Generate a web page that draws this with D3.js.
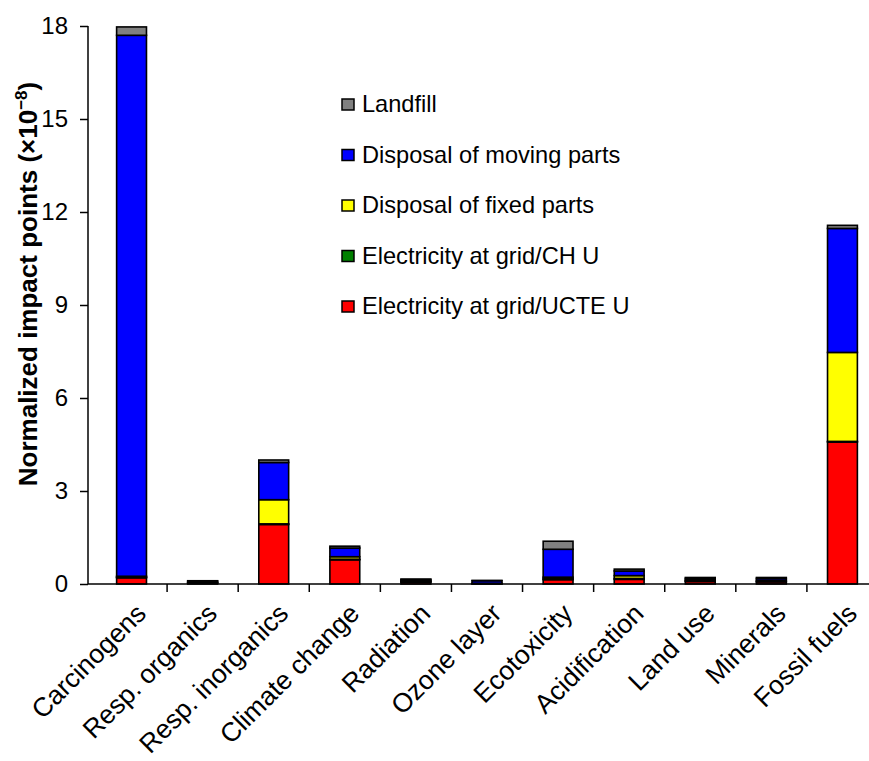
<!DOCTYPE html>
<html>
<head>
<meta charset="utf-8">
<script src="https://cdn.jsdelivr.net/npm/d3@7"></script>
<style>
  body { margin: 0; background: #fff; }
  text { font-family: "Liberation Sans", Arial, sans-serif; fill: #000; }
</style>
</head>
<body>
<div id="canvas"></div>
<script>
// categories and stacked series (x 10^-8 points)
const categories = ["Carcinogens", "Resp. organics", "Resp. inorganics", "Climate change",
  "Radiation", "Ozone layer", "Ecotoxicity", "Acidification", "Land use", "Minerals", "Fossil fuels"];
const elecUCTE = [0.20, 0.03, 1.92, 0.78, 0.06, 0.01, 0.14, 0.15, 0.08, 0.07, 4.58];
const elecCH   = [0.02, 0.005, 0.02, 0.02, 0.02, 0.005, 0.03, 0.03, 0.02, 0.01, 0.02];
const fixedParts  = [0.03, 0.02, 0.78, 0.08, 0.02, 0.01, 0.05, 0.09, 0.03, 0.04, 2.87];
const movingParts = [17.45, 0.04, 1.20, 0.28, 0.04, 0.08, 0.90, 0.15, 0.05, 0.06, 4.00];
const landfill = [0.27, 0.01, 0.08, 0.06, 0.02, 0.01, 0.26, 0.06, 0.03, 0.03, 0.10];
const yTicks = [0, 3, 6, 9, 12, 15, 18];

const series = [
  { name: "Electricity at grid/UCTE U", values: elecUCTE, color: "#ff0000" },
  { name: "Electricity at grid/CH U", values: elecCH, color: "#008000" },
  { name: "Disposal of fixed parts", values: fixedParts, color: "#ffff00" },
  { name: "Disposal of moving parts", values: movingParts, color: "#0000ff" },
  { name: "Landfill", values: landfill, color: "#808080" }
];

const width = 869, height = 761;
const svg = d3.select("#canvas").append("svg")
  .attr("width", width).attr("height", height);

const x = d3.scaleBand().domain(categories)
  .range([96, 878]).paddingInner(0.58).paddingOuter(0.29);
const y = d3.scaleLinear().domain([0, 18]).range([584, 26]);

// stacked data
const rows = categories.map((c, i) => {
  const r = { cat: c };
  series.forEach(s => r[s.name] = s.values[i]);
  return r;
});
const stack = d3.stack().keys(series.map(s => s.name))(rows);

svg.append("g").selectAll("g").data(stack).enter().append("g")
  .attr("fill", (d, i) => series[i].color)
  .selectAll("rect").data(d => d).enter().append("rect")
  .attr("x", d => x(d.data.cat))
  .attr("y", d => y(d[1]))
  .attr("width", x.bandwidth())
  .attr("height", d => y(d[0]) - y(d[1]))
  .attr("stroke", "#000").attr("stroke-width", 1.6);

// y axis
const yAxis = svg.append("g").attr("transform", "translate(88,0)")
  .call(d3.axisLeft(y).tickValues(yTicks).tickSize(8).tickPadding(12));
yAxis.select(".domain").attr("stroke", "#000").attr("stroke-width", 1.5)
  .attr("d", `M0,${y(18)}V${y(0)}`);
yAxis.selectAll(".tick line").attr("stroke-width", 1.5);
yAxis.selectAll("text").style("font-size", "24px")
  .style("font-family", "'Liberation Sans', Arial, sans-serif");

// x axis line + ticks between categories
const step = x.step();
svg.append("line").attr("x1", 88).attr("x2", 878).attr("y1", y(0)).attr("y2", y(0))
  .attr("stroke", "#000").attr("stroke-width", 1.5);
svg.append("g").selectAll("line").data(categories.slice(1)).enter().append("line")
  .attr("x1", d => x(d) - (step - x.bandwidth()) / 2)
  .attr("x2", d => x(d) - (step - x.bandwidth()) / 2)
  .attr("y1", y(0)).attr("y2", y(0) + 8)
  .attr("stroke", "#000").attr("stroke-width", 1.5);

// rotated category labels
svg.append("g").selectAll("text").data(categories).enter().append("text")
  .attr("transform", d => `translate(${x(d) + x.bandwidth() / 2 + 2},601) rotate(-45)`)
  .attr("text-anchor", "end").attr("dy", "0.75em")
  .style("font-size", "26.5px")
  .text(d => d);

// y title
const yTitle = svg.append("text")
  .attr("transform", "translate(37,284) rotate(-90)")
  .attr("text-anchor", "middle")
  .style("font-size", "26px").style("font-weight", "bold");
yTitle.append("tspan").text("Normalized impact points (\u00d710");
yTitle.append("tspan").attr("dy", "-10").style("font-size", "17px").text("\u22128");
yTitle.append("tspan").attr("dy", "10").text(")");

// legend
const legend = svg.append("g").selectAll("g").data(series.slice().reverse()).enter().append("g")
  .attr("transform", (d, i) => `translate(342,${112 + i * 50.5})`);
legend.append("rect").attr("x", 0).attr("y", -13).attr("width", 12).attr("height", 11)
  .attr("fill", d => d.color).attr("stroke", "#000").attr("stroke-width", 1.5);
legend.append("text").attr("x", 20).attr("y", 0)
  .style("font-size", "23.6px")
  .text(d => d.name);
</script>
</body>
</html>
